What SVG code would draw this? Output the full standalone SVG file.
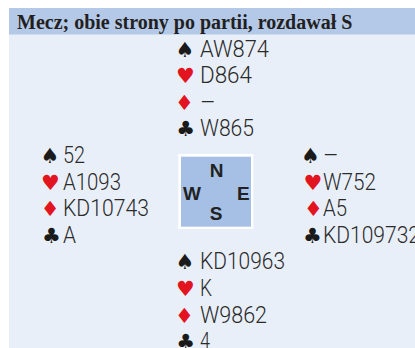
<svg xmlns="http://www.w3.org/2000/svg" width="415" height="348" viewBox="0 0 415 348">
<style>
.bg{fill:#e9eff8}
.hdr{fill:#b4c9e8}
.title{font-family:"Liberation Serif",serif;font-weight:bold;font-size:20px;fill:#231f20}
.c{font-family:Roboto,"Liberation Sans",sans-serif;font-weight:300;font-size:24px;fill:#2a2a2a}
.s{font-family:"DejaVu Sans",sans-serif;font-size:21px;text-anchor:middle}
.k{fill:#1a1a1a}
.r{fill:#e2141f}
.dir{font-family:"Liberation Sans",sans-serif;font-weight:bold;font-size:19px;fill:#222;text-anchor:middle}
</style>
<rect x="0" y="0" width="415" height="348" fill="#ffffff"/>
<rect class="bg" x="9" y="8" width="406" height="340"/>
<g id="header">
<rect class="hdr" x="9" y="8" width="406" height="26.5"/>
<text class="title" x="17" y="28.5">Mecz; obie strony po partii, rozdawał S</text>
</g>
<g id="north">
<text class="s k" x="185" y="56.5">♠</text>
<text class="c" x="200" y="56.5" textLength="69" lengthAdjust="spacingAndGlyphs">AW874</text>
<text class="s r" x="185.3" y="83.1">♥</text>
<text class="c" x="200" y="83.1" textLength="52" lengthAdjust="spacingAndGlyphs">D864</text>
<text class="s r" x="184.5" y="109.7">♦</text>
<text class="c" x="200" y="109.7">–</text>
<text class="s k" x="185.7" y="136.3">♣</text>
<text class="c" x="200" y="136.3" textLength="54" lengthAdjust="spacingAndGlyphs">W865</text>
</g>
<g id="west">
<text class="s k" x="50" y="162.9">♠</text>
<text class="c" x="63" y="162.9" textLength="22" lengthAdjust="spacingAndGlyphs">52</text>
<text class="s r" x="50.5" y="189.5">♥</text>
<text class="c" x="63" y="189.5" textLength="58" lengthAdjust="spacingAndGlyphs">A1093</text>
<text class="s r" x="50.2" y="216.1">♦</text>
<text class="c" x="63" y="216.1" textLength="86" lengthAdjust="spacingAndGlyphs">KD10743</text>
<text class="s k" x="51.3" y="242.7">♣</text>
<text class="c" x="63" y="242.7" textLength="13" lengthAdjust="spacingAndGlyphs">A</text>
</g>
<g id="compass">
<rect x="178.3" y="154" width="75" height="75" fill="#ffffff"/>
<rect x="181" y="156.7" width="70" height="70" fill="#a5c0e4"/>
<text class="dir" x="216.5" y="176.7">N</text>
<text class="dir" x="192" y="200">W</text>
<text class="dir" x="243.3" y="200">E</text>
<text class="dir" x="216.2" y="220">S</text>
</g>
<g id="east">
<text class="s k" x="310.5" y="162.9">♠</text>
<text class="c" x="323" y="162.9">–</text>
<text class="s r" x="313" y="189.5">♥</text>
<text class="c" x="323" y="189.5" textLength="53" lengthAdjust="spacingAndGlyphs">W752</text>
<text class="s r" x="313.5" y="216.1">♦</text>
<text class="c" x="323" y="216.1" textLength="24" lengthAdjust="spacingAndGlyphs">A5</text>
<text class="s k" x="312.5" y="242.7">♣</text>
<text class="c" x="323" y="242.7" textLength="97" lengthAdjust="spacingAndGlyphs">KD109732</text>
</g>
<g id="south">
<text class="s k" x="185" y="269.3">♠</text>
<text class="c" x="200" y="269.3" textLength="85" lengthAdjust="spacingAndGlyphs">KD10963</text>
<text class="s r" x="185.3" y="295.9">♥</text>
<text class="c" x="200" y="295.9" textLength="12" lengthAdjust="spacingAndGlyphs">K</text>
<text class="s r" x="184.5" y="322.5">♦</text>
<text class="c" x="200" y="322.5" textLength="67" lengthAdjust="spacingAndGlyphs">W9862</text>
<text class="s k" x="185.7" y="349.1">♣</text>
<text class="c" x="200" y="349.1" textLength="10" lengthAdjust="spacingAndGlyphs">4</text>
</g>
<g id="connectors"/>
</svg>
